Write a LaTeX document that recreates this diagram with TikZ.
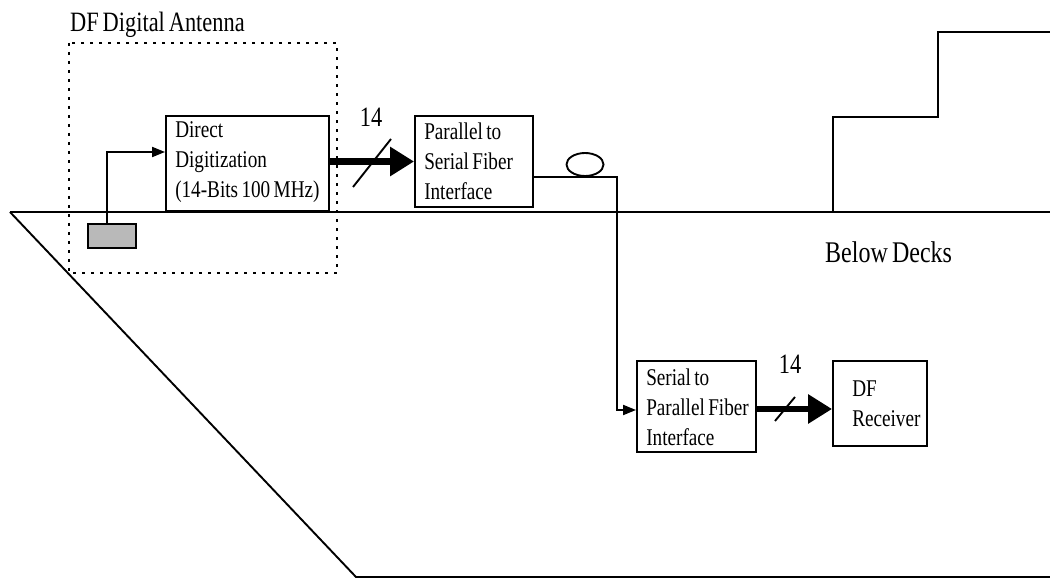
\documentclass[tikz,border=0pt]{standalone}
\usepackage{fontspec}
\setmainfont{Liberation Serif}[FakeStretch=0.8, WordSpace=0.7]
\usetikzlibrary{arrows.meta,calc,shapes.geometric}
\tikzset{
  ln/.style={line width=1.9pt},
  boxnode/.style={draw, line width=1.9pt, inner sep=0pt},
  boxtext/.style={anchor=west, align=left, inner sep=0pt,
    font=\fontsize{24}{30}\selectfont},
  fatarrow/.style={line width=6.5pt, -{Triangle[length=24pt,width=28pt]}},
  thinarrow/.style={line width=1.9pt, -{Triangle[length=13pt,width=10pt]}},
  slash/.style={line width=1.9pt},
  numlabel/.style={anchor=base, inner sep=0pt, font=\fontsize{28}{30}\selectfont},
  dotbox/.style={line width=2.6pt, dash pattern=on 2.6pt off 6.4pt}
}
\begin{document}
\begin{tikzpicture}[x=1pt,y=-1pt]
\useasboundingbox (0,0) rectangle (1050,580);
% ship hull, deck and superstructure
\draw[ln] (10,212) -- (1050,212);
\draw[ln] (10,212) -- (356,577) -- (1050,577);
\draw[ln] (833,212) -- (833,117) -- (938,117) -- (938,32) -- (1050,32);
% antenna enclosure
\draw[dotbox] (69,43) rectangle (337,273);
\node[anchor=base west, inner sep=0pt, font=\fontsize{28}{30}\selectfont] (antlabel) at (70,32) {DF Digital Antenna};
% boxes
\node[boxnode, minimum width=163pt, minimum height=95pt] (dd) at (247.5,163.5) {};
\node[boxtext] (ddt) at ($(dd.west)+(10,-1)$) {Direct\\Digitization\\(14-Bits 100 MHz)};
\node[boxnode, minimum width=118pt, minimum height=91pt] (par) at (474,161.5) {};
\node[boxtext] (part) at ($(par.west)+(10,0)$) {Parallel to\\Serial Fiber\\Interface};
\node[boxnode, minimum width=119pt, minimum height=91pt] (ser) at (696.5,406.5) {};
\node[boxtext] (sert) at ($(ser.west)+(10,1)$) {Serial to\\Parallel Fiber\\Interface};
\node[boxnode, minimum width=94pt, minimum height=85pt] (rcv) at (880,403.5) {};
\node[boxtext] (rcvt) at ($(rcv.west)+(20,0)$) {DF\\Receiver};
% antenna element
\node[draw, line width=1.9pt, fill=gray!55, minimum width=48pt, minimum height=24pt, inner sep=0pt] (ant) at (112,236) {};
\draw[thinarrow] ($(ant.north)+(-5,0)$) |- ($(dd.west)+(0,-11.5)$);
% parallel bus 1
\draw[fatarrow] (dd.east |- par.west) -- (par.west);
\coordinate (s1) at (372,162);
\draw[slash] ($(s1)+(-19,25)$) -- ($(s1)+(19,-23)$);
\node[numlabel] (n1) at (371,127) {14};
% fiber with loop
\node[draw, ellipse, line width=1.9pt, minimum width=37pt, minimum height=23pt, inner sep=0pt] (loop) at (585,164.5) {};
\draw[thinarrow] ($(par.east)+(0,15.5)$) -| ($(ser.west)+(-19,3.5)$) -- ($(ser.west)+(0,3.5)$);
% parallel bus 2
\draw[fatarrow] ($(ser.east)+(0,2.5)$) -- ($(rcv.west)+(0,5.5)$);
\coordinate (s2) at (785,409);
\draw[slash] ($(s2)+(-10,12)$) -- ($(s2)+(10,-12)$);
\node[numlabel] (n2) at (790,373) {14};
% below decks label
\node[anchor=base west, inner sep=0pt, font=\fontsize{30}{32}\selectfont] (bd) at (825,263) {Below Decks};
\end{tikzpicture}
\end{document}
